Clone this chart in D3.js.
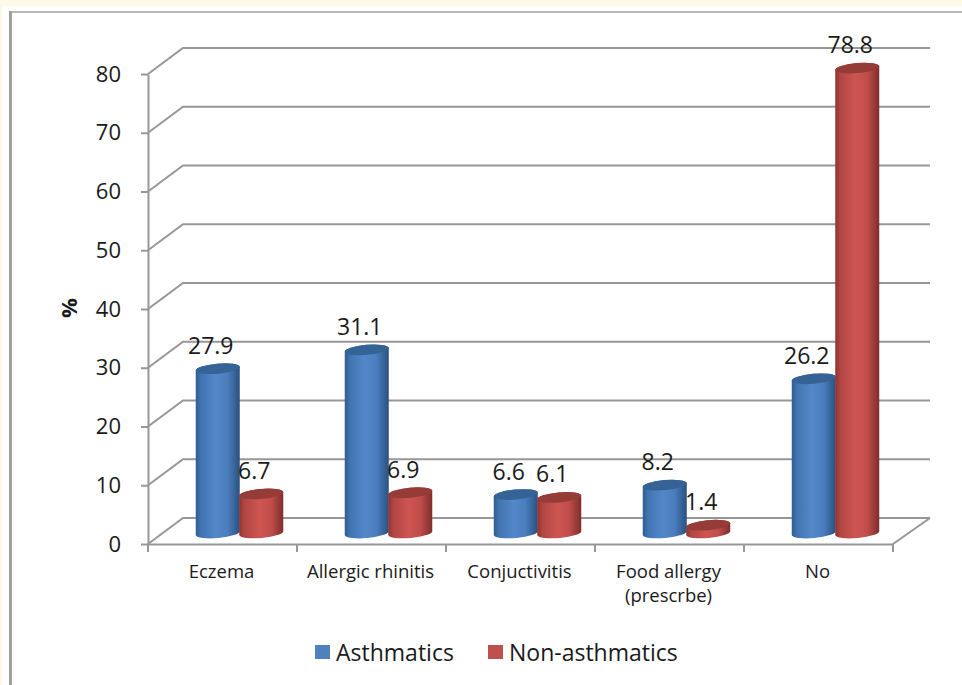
<!DOCTYPE html>
<html>
<head>
<meta charset="utf-8">
<script src="https://cdnjs.cloudflare.com/ajax/libs/d3/7.8.5/d3.min.js"></script>
<style>
html,body{margin:0;padding:0;background:#fff;overflow:hidden}
svg{display:block}
text{font-family:"Open Sans",sans-serif;fill:#1a1a1a}
</style>
</head>
<body>
<svg id="chart" width="962" height="685"></svg>
<script>
const categories = ["Eczema", "Allergic rhinitis", "Conjuctivitis", "Food allergy|(prescrbe)", "No"];
const asthmatics = [27.9, 31.1, 6.6, 8.2, 26.2];
const nonAsthmatics = [6.7, 6.9, 6.1, 1.4, 78.8];
const yTicks = [0, 10, 20, 30, 40, 50, 60, 70, 80];
const seriesNames = ["Asthmatics", "Non-asthmatics"];
const seriesColors = [
  {edge: "#2f5c92", light: "#5287c9", top: "#366395", name: "blue"},
  {edge: "#8f3431", light: "#cd5552", top: "#953b38", name: "red"}
];

const svg = d3.select("#chart");
const W = 962, H = 685;
const depth = {x: 35, y: -26};
const grey = "#979797";

// page frame
svg.append("rect").attr("width", W).attr("height", H).attr("fill", "#fff");
svg.append("rect").attr("width", W).attr("height", 6).attr("fill", "#fff9e6");
svg.append("rect").attr("x", 0).attr("width", 2).attr("height", H).attr("fill", "#fff9e6");
svg.append("path").attr("d", `M${W},12H10.5V${H}`).attr("fill", "none")
  .attr("stroke", "#a0a0a0").attr("stroke-width", 1.5);
svg.append("rect").attr("x", 9).attr("y", 11).attr("width", 3).attr("height", H - 11).attr("fill", "#a0a0a0");

const x = d3.scaleBand().domain(categories).range([148, 893]).padding(0);
const y = d3.scaleLinear().domain([0, 80]).range([544, 74]);
// plane halfway into the chart's depth, where the cylinders stand
const yMid = d3.scaleLinear().domain([0, 80]).range([533.5, 61]);

// gradients giving the cylinders their rounded look
const defs = svg.append("defs");
seriesColors.forEach(c => {
  const g = defs.append("linearGradient").attr("id", "cyl-" + c.name)
    .attr("x1", 0).attr("x2", 1).attr("y1", 0).attr("y2", 0);
  [[0, c.edge], [0.12, d3.interpolateRgb(c.edge, c.light)(0.55)], [0.45, c.light],
   [0.72, d3.interpolateRgb(c.edge, c.light)(0.8)], [1, d3.interpolateRgb(c.edge, "#000")(0.12)]]
    .forEach(s => g.append("stop").attr("offset", s[0]).attr("stop-color", s[1]));
});

// back wall gridlines with their slanted side-wall segments
const grid = svg.append("g").attr("fill", "none").attr("stroke", grey).attr("stroke-width", 2);
grid.selectAll("path").data(yTicks).join("path")
  .attr("d", d => `M${x.range()[0]},${y(d)}L${x.range()[0] + depth.x},${y(d) + depth.y}H${x.range()[1] + depth.x + 2}`);
grid.append("path").attr("d",
  `M${x.range()[1]},${y(0)}L${x.range()[1] + depth.x + 2},${y(0) + depth.y}`);

// value axis
const yAxis = svg.append("g").attr("transform", `translate(${x.range()[0]},0)`)
  .call(d3.axisLeft(y).tickValues(yTicks).tickSize(7).tickSizeOuter(0).tickPadding(20));
yAxis.selectAll("path,line").attr("stroke", grey).attr("stroke-width", 2);
yAxis.selectAll("text").attr("font-size", 22).style("font-family", '"Open Sans",sans-serif').attr("fill", "#1a1a1a");

// category axis with ticks at the band edges
const xAxis = svg.append("g").attr("transform", `translate(0,${y(0)})`)
  .call(d3.axisBottom(x).tickSize(0).tickPadding(0).tickFormat(""));
xAxis.selectAll("path").attr("stroke", grey).attr("stroke-width", 2);
xAxis.selectAll(".edge").data(categories.concat("end")).join("line").attr("class", "edge")
  .attr("x1", (d, i) => x.range()[0] + i * x.step()).attr("x2", (d, i) => x.range()[0] + i * x.step())
  .attr("y1", 0).attr("y2", 8).attr("stroke", grey).attr("stroke-width", 2);

const labels = svg.append("g").attr("text-anchor", "middle").attr("font-size", 18.5);
categories.forEach(c => {
  const t = labels.append("text").attr("x", x(c) + x.bandwidth() / 2 - 1).attr("y", 578);
  c.split("|").forEach((line, i) => t.append("tspan")
    .attr("x", x(c) + x.bandwidth() / 2 - 1).attr("dy", i ? 24 : 0).text(line));
});

// cylinders
const barW = 44, rx = barW / 2, ry = 5, tilt = -5;
const sx = d3.scaleBand().domain([0, 1]).range([-43.5, 43.5]);
function cylinder(cx, top, bottom) {
  return `M${cx - rx},${top + 2}L${cx - rx},${bottom + 2}` +
    `A${rx},${ry} ${tilt} 0 0 ${cx + rx},${bottom - 2}L${cx + rx},${top - 2}` +
    `A${rx},${ry} ${tilt} 0 0 ${cx - rx},${top + 2}Z`;
}
function capEllipse(cx, top) {
  return `M${cx - rx},${top + 2}A${rx},${ry} ${tilt} 1 1 ${cx + rx},${top - 2}A${rx},${ry} ${tilt} 1 1 ${cx - rx},${top + 2}Z`;
}
const bars = svg.append("g"), values = svg.append("g").attr("text-anchor", "middle").attr("font-size", 23);
[asthmatics, nonAsthmatics].forEach((series, s) => {
  const c = seriesColors[s];
  series.forEach((v, i) => {
    const cat = categories[i];
    const cx = x(cat) + x.bandwidth() / 2 + depth.x / 2 + sx(s) + sx.bandwidth() / 2 - 0.5;
    const top = yMid(v), bottom = yMid(0) - 0.5;
    bars.append("path").attr("d", cylinder(cx, top, bottom)).attr("fill", `url(#cyl-${c.name})`);
    bars.append("path").attr("d", capEllipse(cx, top)).attr("fill", c.top);
    values.append("text").attr("x", cx - 7).attr("y", top - 15).text(v);
  });
});

// axis title
svg.append("text").attr("transform", "translate(77,308) rotate(-90)")
  .attr("text-anchor", "middle").attr("font-size", 22).attr("font-weight", 700).text("%");

// legend
const legendX = [315, 488];
seriesNames.forEach((n, i) => {
  svg.append("rect").attr("x", legendX[i]).attr("y", 645).attr("width", 15).attr("height", 14)
    .attr("fill", i ? "#c0504d" : "#4f81bd");
  svg.append("text").attr("x", legendX[i] + 21).attr("y", 661).attr("font-size", 23).text(n);
});
</script>
</body>
</html>
